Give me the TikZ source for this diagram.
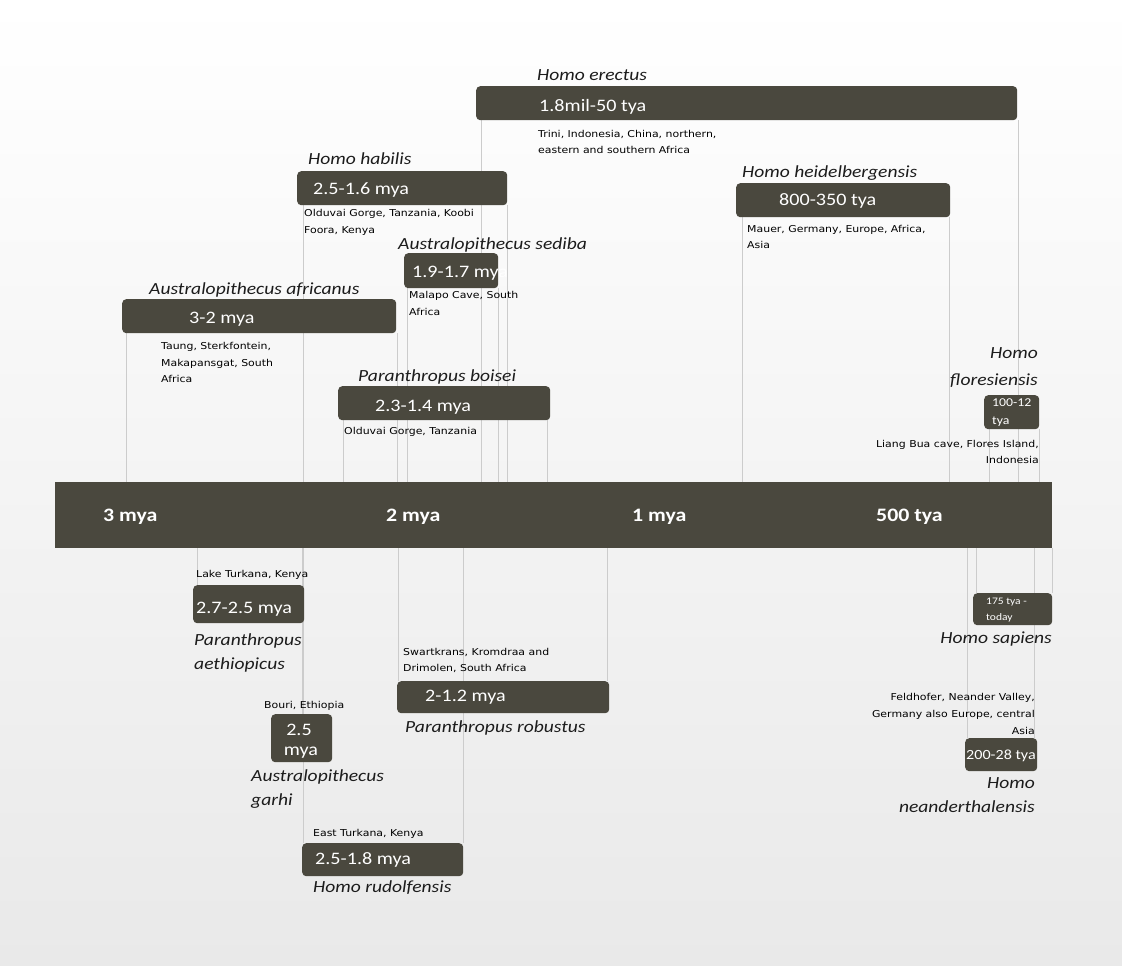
\documentclass[tikz,border=0pt]{standalone}
\usepackage{fontspec}
\setmainfont{Carlito}[FakeStretch=1.15]
\newfontfamily\locf{DejaVu Sans}[FakeStretch=1.15]
\definecolor{boxc}{RGB}{74,72,62}
\definecolor{lnc}{RGB}{204,204,204}
\definecolor{bgb}{RGB}{233,233,233}
\definecolor{txc}{RGB}{28,28,28}
\pgfdeclarelayer{bg}
\pgfdeclarelayer{lines}
\pgfsetlayers{bg,lines,main}
\begin{document}
\begin{tikzpicture}[x=1pt,y=-1pt,
  bx/.style={fill=boxc, rounded corners=4pt, inner sep=0pt, anchor=north west, draw=none},
  dt/.style={text=white, font=\fontsize{17.5}{20}\selectfont, inner sep=0pt, anchor=base west},
  ti/.style={text=txc, font=\fontsize{17}{20}\selectfont\itshape, inner sep=0pt, anchor=base west},
  tir/.style={ti, anchor=base east},
  lc/.style={text=black, font=\fontsize{9.5}{12}\selectfont\locf, inner sep=0pt, anchor=base west},
  lcr/.style={lc, anchor=base east},
  ln/.style={draw=lnc, line width=1pt},
  bl/.style={text=white, font=\fontsize{19}{21}\selectfont\bfseries, inner sep=0pt, anchor=base west}]
\begin{pgfonlayer}{bg}
\shade[top color=white, bottom color=bgb] (0,0) rectangle (1122,966);
\end{pgfonlayer}
\useasboundingbox (0,0) rectangle (1122,966);

% timeline bar
\node[fill=boxc, inner sep=0pt, anchor=north west, minimum width=997pt, minimum height=66pt] (bar) at (55,482) {};
\node[bl] (m3) at (103,521) {3 mya};
\node[bl] (m2) at (386,521) {2 mya};
\node[bl] (m1) at (632,521) {1 mya};
\node[bl] (k500) at (876,521) {500 tya};

% ---------- above ----------
% Homo erectus
\node[bx, minimum width=541pt, minimum height=34pt] (er) at (476,86) {};
\node[ti] (erT) at (537,81) {Homo erectus};
\node[dt] (erD) at (539,111) {1.8mil-50 tya};
\node[lc] (erL1) at (538,137) {Trini, Indonesia, China, northern,};
\node[lc] (erL2) at (538,153) {eastern and southern Africa};

% Homo habilis
\node[bx, minimum width=210pt, minimum height=34pt] (ha) at (297,171) {};
\node[ti] (haT) at (308,164) {Homo habilis};
\node[dt] (haD) at (313,194) {2.5-1.6 mya};
\node[lc] (haL1) at (304,216) {Olduvai Gorge, Tanzania, Koobi};
\node[lc] (haL2) at (304,233) {Foora, Kenya};

% Australopithecus sediba
\node[bx, minimum width=94pt, minimum height=35pt] (se) at (404,253) {};
\node[ti] (seT) at (398,249) {Australopithecus sediba};
\node[dt] (seD) at (412,277) {1.9-1.7 mya};
\node[lc] (seL1) at (409,298) {Malapo Cave, South};
\node[lc] (seL2) at (409,315) {Africa};

% Australopithecus africanus
\node[bx, minimum width=274pt, minimum height=34pt] (af) at (122,299) {};
\node[ti] (afT) at (149,294) {Australopithecus africanus};
\node[dt] (afD) at (189,323) {3-2 mya};
\node[lc] (afL1) at (161,349) {Taung, Sterkfontein,};
\node[lc] (afL2) at (161,366) {Makapansgat, South};
\node[lc] (afL3) at (161,382) {Africa};

% Paranthropus boisei
\node[bx, minimum width=212pt, minimum height=34pt] (bo) at (338,386) {};
\node[ti] (boT) at (358,381) {Paranthropus boisei};
\node[dt] (boD) at (375,411) {2.3-1.4 mya};
\node[lc] (boL) at (344,434) {Olduvai Gorge, Tanzania};

% Homo heidelbergensis
\node[bx, minimum width=214pt, minimum height=34pt] (he) at (736,183) {};
\node[ti] (heT) at (742,177) {Homo heidelbergensis};
\node[dt] (heD) at (779,205) {800-350 tya};
\node[lc] (heL1) at (747,232) {Mauer, Germany, Europe, Africa,};
\node[lc] (heL2) at (747,248) {Asia};

% Homo floresiensis
\node[bx, minimum width=55pt, minimum height=34pt] (fl) at (984,395) {};
\node[tir] (flT1) at (1038,358) {Homo};
\node[tir] (flT2) at (1038,385) {floresiensis};
\node[dt, font=\fontsize{12}{14}\selectfont] (flD1) at (992,406) {100-12};
\node[dt, font=\fontsize{12}{14}\selectfont] (flD2) at (992,424) {tya};
\node[lcr] (flL1) at (1039,447) {Liang Bua cave, Flores Island,};
\node[lcr] (flL2) at (1039,463) {Indonesia};

% ---------- below ----------
% Paranthropus aethiopicus
\node[bx, minimum width=111pt, minimum height=38pt] (ae) at (193,585) {};
\node[lc] (aeL) at (196,577) {Lake Turkana, Kenya};
\node[dt] (aeD) at (196,613) {2.7-2.5 mya};
\node[ti] (aeT1) at (194,645) {Paranthropus};
\node[ti] (aeT2) at (194,669) {aethiopicus};

% Australopithecus garhi
\node[bx, minimum width=61pt, minimum height=48pt] (ga) at (271,714) {};
\node[lc] (gaL) at (264,708) {Bouri, Ethiopia};
\node[dt, anchor=base] (gaD1) at (299,735) {2.5};
\node[dt, anchor=base] (gaD2) at (301,755) {mya};
\node[ti] (gaT1) at (251,781) {Australopithecus};
\node[ti] (gaT2) at (251,805) {garhi};

% Homo rudolfensis
\node[bx, minimum width=161pt, minimum height=33pt] (ru) at (302,843) {};
\node[lc] (ruL) at (313,836) {East Turkana, Kenya};
\node[dt] (ruD) at (315,864) {2.5-1.8 mya};
\node[ti] (ruT) at (313,892) {Homo rudolfensis};

% Paranthropus robustus
\node[bx, minimum width=212pt, minimum height=32pt] (ro) at (397,681) {};
\node[lc] (roL1) at (403,655) {Swartkrans, Kromdraa and};
\node[lc] (roL2) at (403,671) {Drimolen, South Africa};
\node[dt] (roD) at (425,701) {2-1.2 mya};
\node[ti] (roT) at (405,732) {Paranthropus robustus};

% Homo sapiens
\node[bx, minimum width=79pt, minimum height=32pt] (sa) at (973,593) {};
\node[dt, font=\fontsize{10}{12}\selectfont] (saD1) at (986,604) {175 tya -};
\node[dt, font=\fontsize{10}{12}\selectfont] (saD2) at (986,620) {today};
\node[tir] (saT) at (1052,643) {Homo sapiens};

% Homo neanderthalensis
\node[bx, minimum width=72pt, minimum height=33pt] (ne) at (965,738) {};
\node[lcr] (neL1) at (1035,700) {Feldhofer, Neander Valley,};
\node[lcr] (neL2) at (1035,717) {Germany also Europe, central};
\node[lcr] (neL3) at (1035,734) {Asia};
\node[dt, font=\fontsize{14}{16}\selectfont] (neD) at (966,759) {200-28 tya};
\node[tir] (neT1) at (1035,788) {Homo};
\node[tir] (neT2) at (1035,812) {neanderthalensis};

% ---------- connector lines ----------
\begin{pgfonlayer}{lines}
\foreach \b/\d in {af/4, af/275, ha/6, ha/210, bo/5, bo/209, se/3, se/94,
                   er/5, er/542, he/6, he/213, fl/5, fl/55}{
  \draw[ln] ([xshift=\d pt]\b.south west) -- ([xshift=\d pt]\b.south west |- bar.north);
}
\foreach \b/\d in {ae/4, ae/109, ga/31, ru/1, ru/161, ro/1, ro/210,
                   sa/3, sa/79, ne/2, ne/69}{
  \draw[ln] ([xshift=\d pt]\b.north west) -- ([xshift=\d pt]\b.north west |- bar.south);
}
\end{pgfonlayer}
\end{tikzpicture}
\end{document}
